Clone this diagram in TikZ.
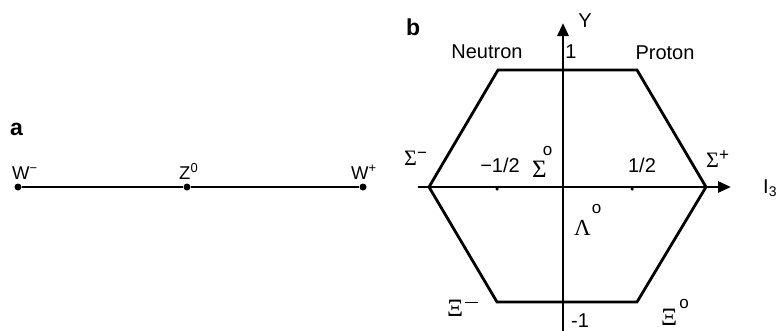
\documentclass[tikz,border=0pt]{standalone}
\usepackage{fontspec}
\setmainfont{Liberation Sans}
\newfontfamily\grk{Liberation Serif}
\usetikzlibrary{arrows.meta}
\newcommand\glt[2]{{\grk\fontsize{#1}{#1}\selectfont #2}}
\newcommand\hsup[2]{\raisebox{#1}{\fontsize{17}{18}\selectfont #2}}
\begin{document}
\begin{tikzpicture}[x=1pt,y=-1pt,
  lab/.style={inner sep=0pt,font=\fontsize{20}{22}\selectfont},
  wlab/.style={inner sep=0pt,anchor=base west,font=\fontsize{18.5}{20}\selectfont},
  glab/.style={inner sep=0pt,anchor=base west},
  pan/.style={inner sep=0pt,anchor=base west,font=\fontsize{23}{24}\selectfont\bfseries},
  dot/.style={circle,fill=black,inner sep=0pt,minimum size=7pt},
  tick/.style={circle,fill=black,inner sep=0pt,minimum size=3.5pt},
  edge/.style={line width=2.8pt},
  axis/.style={line width=2.8pt,-{Triangle[length=13pt,width=11pt]}}]
\useasboundingbox (0,0) rectangle (778,330);
% panel a
\node[pan] (pa) at (10,135) {a};
\node[dot] (wm) at (18,187) {};
\node[dot] (z0) at (187,187) {};
\node[dot] (wp) at (363,187) {};
\draw[line width=1.3pt] (wm) -- (z0) -- (wp);
\node[wlab] (lwm) at (12,179) {W\textsuperscript{−}};
\node[wlab] (lz0) at (179,179) {Z\textsuperscript{0}};
\node[wlab] (lwp) at (351,179) {W\textsuperscript{+}};
% panel b
\node[pan] (pb) at (406,35) {b};
\coordinate (yb) at (563,332);
\coordinate (yt) at (563,23);
\coordinate (xl) at (418,187);
\coordinate (xr) at (731,187);
\draw[axis] (yb) -- (yt);
\draw[axis] (xl) -- (xr);
\coordinate (h1) at (498,70);
\coordinate (h2) at (637,70);
\coordinate (h3) at (706,187);
\coordinate (h4) at (637,302);
\coordinate (h5) at (497,302);
\coordinate (h6) at (429,187);
\draw[edge,line join=miter] (h1) -- (h2) -- (h3) -- (h4) -- (h5) -- (h6) -- cycle;
\node[tick] (tm) at (497,189) {};
\node[tick] (tp) at (632,189) {};
\node[lab,anchor=base] (ly) at (585,27) {Y};
\node[lab,anchor=base west] (li3) at (763,193) {I\textsubscript{3}};
\node[lab,anchor=base] (ln) at (487,58) {Neutron};
\node[lab,anchor=base] (l1) at (571,58) {1};
\node[lab,anchor=base] (lp) at (665,59) {Proton};
\node[lab,anchor=base] (lmh) at (500,172) {−1/2};
\node[lab,anchor=base] (lph) at (642,172) {1/2};
\node[glab] (lsm) at (404,165) {\glt{22}{Σ}\hsup{7pt}{−}};
\node[glab] (ls0) at (532,177) {\glt{25}{Σ}\kern-4pt\hsup{22pt}{o}};
\node[glab] (lsp) at (706,167) {\glt{22}{Σ}\hsup{6.5pt}{+}};
\node[glab] (ll0) at (574,235) {\glt{23}{Λ}\kern1pt\hsup{22pt}{o}};
\node[glab] (lxm) at (447,316) {\glt{25}{Ξ}\kern1.5pt\raisebox{13pt}{\rule{13pt}{1.5pt}}};
\node[glab] (lx0) at (661,325) {\glt{25}{Ξ}\kern2pt\hsup{17pt}{o}};
\node[lab,anchor=base] (lm1) at (580,327) {-1};
\end{tikzpicture}
\end{document}
